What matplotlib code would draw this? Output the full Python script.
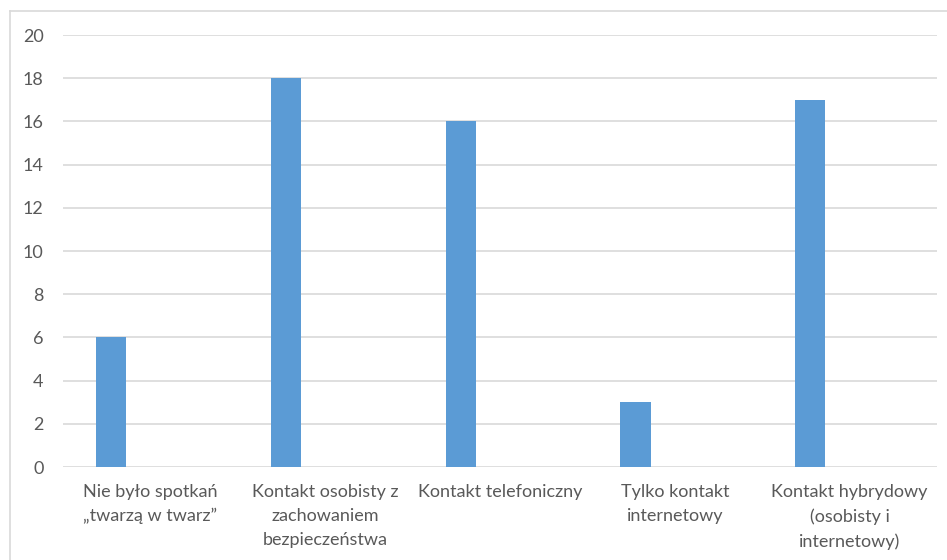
import matplotlib.pyplot as plt
from matplotlib.lines import Line2D
import numpy as np

# dane wykresu
kategorie = ['Nie było spotkań\n„twarzą w twarz”',
             'Kontakt osobisty z\nzachowaniem\nbezpieczeństwa',
             'Kontakt telefoniczny',
             'Tylko kontakt\ninternetowy',
             'Kontakt hybrydowy\n(osobisty i\ninternetowy)']
wartosci = [6, 18, 16, 3, 17]
y_ticks = [0, 2, 4, 6, 8, 10, 12, 14, 16, 18, 20]

plt.rcParams['font.family'] = ['Lato', 'DejaVu Sans']

W, H = 947, 560
fig = plt.figure(figsize=(W / 100, H / 100), dpi=100)
fig.patch.set_facecolor('white')

ax = fig.add_axes([63 / W, (H - 467) / H, (937 - 63) / W, (467 - 35) / H])

x = np.arange(len(kategorie))
# słupki przesunięte w lewo jak w Excelu (druga seria pusta)
ax.bar(x - 0.225, wartosci, width=0.172, color='#5b9bd5', zorder=3)

ax.set_xlim(-0.5, len(kategorie) - 0.5)
ax.set_ylim(0, 20)
ax.set_yticks(y_ticks)
ax.set_xticks(x)
ax.set_xticklabels(kategorie, fontsize=13, color='#595959', linespacing=1.62)
ax.tick_params(axis='y', labelsize=13, labelcolor='#595959', length=0, pad=14)
ax.tick_params(axis='x', length=0, pad=12)

ax.grid(axis='y', color='#d9d9d9', linewidth=1.2, zorder=0)
for s in ax.spines.values():
    s.set_visible(False)

# ramka obszaru wykresu
fig.add_artist(Line2D([10 / W, 1], [1 - 11 / H, 1 - 11 / H], color='#d9d9d9', lw=1.2))
fig.add_artist(Line2D([10 / W, 10 / W], [0, 1 - 11 / H], color='#d9d9d9', lw=1.2))

fig.savefig('out.png', dpi=100)
